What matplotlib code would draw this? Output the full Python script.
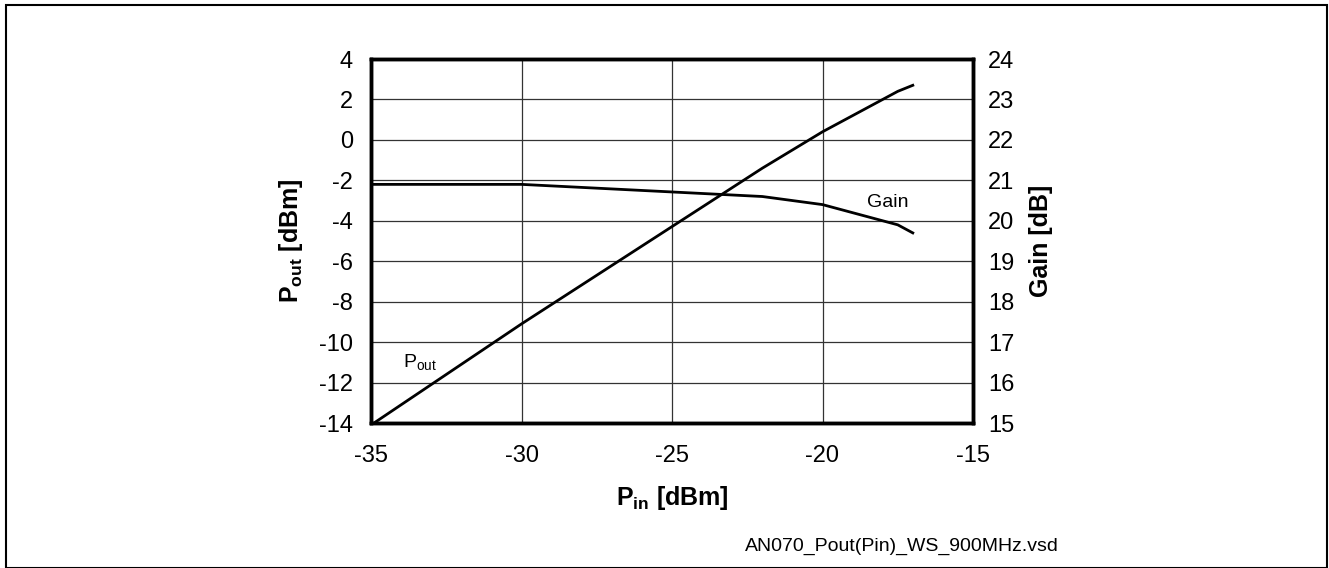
import matplotlib
matplotlib.use('Agg')
import matplotlib.pyplot as plt
from matplotlib.patches import Rectangle

plt.rcParams['font.family'] = ['Liberation Sans', 'DejaVu Sans']
plt.rcParams['mathtext.fontset'] = 'custom'
plt.rcParams['mathtext.rm'] = 'Liberation Sans'
plt.rcParams['mathtext.it'] = 'Liberation Sans'
plt.rcParams['mathtext.bf'] = 'Liberation Sans:bold'

pin = [-35, -30, -22, -20, -17.5, -17]
pout = [-14.1, -9.1, -1.4, 0.4, 2.4, 2.7]
gain = [20.9, 20.9, 20.6, 20.4, 19.9, 19.7]

x_ticks = [-35, -30, -25, -20, -15]
pout_ticks = [-14, -12, -10, -8, -6, -4, -2, 0, 2, 4]
gain_ticks = [15, 16, 17, 18, 19, 20, 21, 22, 23, 24]

fig = plt.figure(figsize=(13.29, 5.68), dpi=100)
W, H = 1329, 568
ax = fig.add_axes([371 / W, 1 - 423 / H, (973 - 371) / W, (423 - 59) / H])
ax2 = ax.twinx()

ax.plot(pin, pout, color='black', lw=2.0, zorder=3)
ax2.plot(pin, gain, color='black', lw=2.0, zorder=3)

ax.set_xlim(-35, -15)
ax.set_ylim(-14, 4)
ax2.set_ylim(15, 24)
ax.set_xticks(x_ticks)
ax.set_yticks(pout_ticks)
ax2.set_yticks(gain_ticks)
ax.set_xticklabels([str(v) for v in x_ticks])
ax.set_yticklabels([str(v) for v in pout_ticks])
ax2.set_yticklabels([str(v) for v in gain_ticks])

ax.grid(True, color='#333333', lw=0.9)
for a in (ax, ax2):
    a.tick_params(length=0, labelsize=17, pad=13)
    for s in a.spines.values():
        s.set_linewidth(2.5)
ax.tick_params(axis='x', pad=16)
ax2.tick_params(axis='y', pad=11)

ax.set_xlabel(r'$\mathbf{P}_{\mathbf{in}}$ [dBm]', fontsize=18, fontweight='bold', labelpad=12)
ax.set_ylabel(r'$\mathbf{P}_{\mathbf{out}}$ [dBm]', fontsize=18, fontweight='bold', labelpad=10)
ax2.set_ylabel('Gain [dB]', fontsize=18, fontweight='bold', labelpad=10)

ax2.text(-18.52, 20.34, 'Gain', fontsize=14, ha='left', va='baseline')
ax.text(-33.94, -11.23, r'P$_{\mathrm{out}}$', fontsize=14, ha='left', va='baseline')

fig.text(1059 / W, 1 - 546 / H, 'AN070_Pout(Pin)_WS_900MHz.vsd', fontsize=14,
         ha='right', va='center')

fig.patches.append(Rectangle((6 / W, 0), (1327 - 6) / W, 1 - 5 / H,
                             transform=fig.transFigure, fill=False,
                             edgecolor='black', lw=1.5))

fig.savefig('out.png', dpi=100)
